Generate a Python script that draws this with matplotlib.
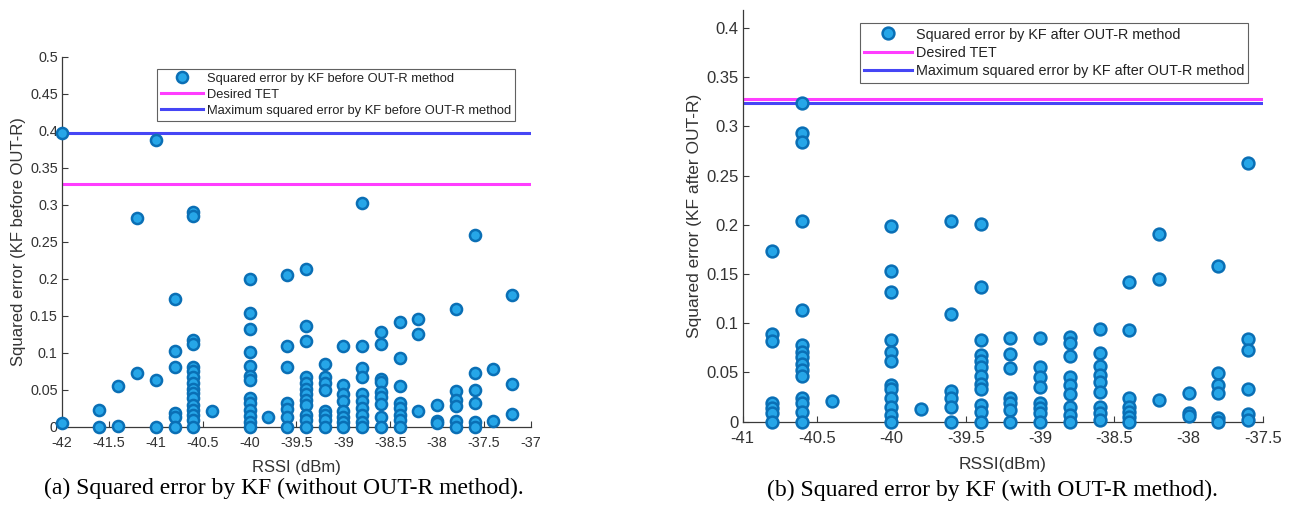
import matplotlib
matplotlib.use("Agg")
import matplotlib.pyplot as plt
from matplotlib.ticker import FuncFormatter, MultipleLocator
from matplotlib.lines import Line2D

# ---------------- data (a): before OUT-R ----------------
rssi_a = [-42.0, -41.6, -41.4, -41.2, -41.0, -40.8, -40.6, -40.4, -40.0, -39.8,
          -39.6, -39.4, -39.2, -39.0, -38.8, -38.6, -38.4, -38.2, -38.0, -37.8,
          -37.6, -37.4, -37.2]
err_a = [
    [0.397, 0.005],
    [0.023, 0.0],
    [0.056, 0.001],
    [0.283, 0.073],
    [0.388, 0.064, 0.0],
    [0.173, 0.103, 0.081, 0.019, 0.014, 0.0],
    [0.291, 0.285, 0.118, 0.112, 0.081, 0.075, 0.068, 0.059, 0.052, 0.046, 0.039,
     0.030, 0.023, 0.016, 0.0095, 0.0],
    [0.0216],
    [0.200, 0.154, 0.132, 0.101, 0.083, 0.069, 0.063, 0.039, 0.032, 0.023, 0.015,
     0.007, 0.0],
    [0.013],
    [0.205, 0.109, 0.081, 0.032, 0.024, 0.014, 0.0],
    [0.2135, 0.137, 0.116, 0.068, 0.059, 0.052, 0.044, 0.037, 0.030, 0.016, 0.010, 0.0],
    [0.085, 0.068, 0.059, 0.050, 0.021, 0.016, 0.010, 0.0],
    [0.110, 0.057, 0.044, 0.035, 0.021, 0.014, 0.007, 0.0],
    [0.303, 0.110, 0.080, 0.068, 0.044, 0.035, 0.025, 0.016, 0.007, 0.0],
    [0.129, 0.112, 0.065, 0.061, 0.047, 0.041, 0.031, 0.014, 0.0],
    [0.142, 0.093, 0.056, 0.033, 0.025, 0.016, 0.010, 0.0],
    [0.146, 0.125, 0.0216],
    [0.030, 0.0085, 0.006],
    [0.159, 0.049, 0.037, 0.028, 0.0085, 0.0],
    [0.260, 0.0725, 0.050, 0.033, 0.007, 0.0],
    [0.079, 0.008],
    [0.179, 0.058, 0.017],
]
tet_a = 0.328
max_a = 0.397

# ---------------- data (b): after OUT-R ----------------
rssi_b = [-40.8, -40.6, -40.4, -40.0, -39.8, -39.6, -39.4, -39.2, -39.0, -38.8,
          -38.6, -38.4, -38.2, -38.0, -37.8, -37.6]
err_b = [
    [0.173, 0.089, 0.082, 0.0187, 0.014, 0.009, 0.0],
    [0.324, 0.293, 0.284, 0.204, 0.113, 0.078, 0.071, 0.066, 0.059, 0.0525, 0.046,
     0.0244, 0.0187, 0.010, 0.0],
    [0.0207],
    [0.199, 0.153, 0.132, 0.083, 0.0705, 0.062, 0.0373, 0.033, 0.0244, 0.015, 0.007, 0.0],
    [0.013],
    [0.204, 0.109, 0.031, 0.024, 0.015, 0.0],
    [0.201, 0.137, 0.083, 0.068, 0.062, 0.0555, 0.046, 0.0385, 0.033, 0.017, 0.010, 0.0],
    [0.0847, 0.069, 0.055, 0.0238, 0.019, 0.012, 0.0],
    [0.0847, 0.056, 0.045, 0.0356, 0.019, 0.014, 0.0088, 0.0],
    [0.0858, 0.080, 0.0668, 0.045, 0.037, 0.028, 0.015, 0.0068, 0.0],
    [0.094, 0.070, 0.0566, 0.047, 0.040, 0.030, 0.015, 0.009, 0.002],
    [0.142, 0.093, 0.0244, 0.015, 0.010, 0.005, 0.0],
    [0.191, 0.145, 0.022],
    [0.0295, 0.009, 0.006],
    [0.158, 0.049, 0.037, 0.029, 0.004, 0.0],
    [0.2626, 0.084, 0.073, 0.033, 0.008, 0.002],
]
tet_b = 0.3275
max_b = 0.3238

labels_a = ["Squared error by KF before OUT-R method", "Desired TET",
            "Maximum squared error by KF before OUT-R method"]
labels_b = ["Squared error by KF after OUT-R method", "Desired TET",
            "Maximum squared error by KF after OUT-R method"]

# ---------------- style ----------------
plt.rcParams['font.family'] = ['Liberation Sans', 'DejaVu Sans']
FACE = '#26a6e8'
EDGE = '#0a6fb5'
MAG = '#ff3dff'
BLU = '#4646f5'
AX = '#3a3a3a'
TXT = '#333333'

fig = plt.figure(figsize=(12.96, 5.07), dpi=100)
ax1 = fig.add_axes([0.0478, 0.1578, 0.3619, 0.7298])
ax2 = fig.add_axes([0.5731, 0.1682, 0.4015, 0.8120])

fmt = FuncFormatter(lambda v, p: ('%g' % round(v, 4)))


def draw(ax, xs, ys, tet, mx, labels, xlim, ylim, ylab, xlab, leg_anchor,
         tick_fs, lab_fs, leg_fs, ms, xlpad, ylpad, lspace):
    ax.axhline(tet, color=MAG, lw=2.2, zorder=2)
    ax.axhline(mx, color=BLU, lw=2.2, zorder=2)
    px, py = [], []
    for x, col in zip(xs, ys):
        for v in col:
            px.append(x)
            py.append(v)
    ax.plot(px, py, 'o', ms=ms, mfc=FACE, mec=EDGE, mew=1.8, ls='none',
            clip_on=False, zorder=3)
    ax.set_xlim(*xlim)
    ax.set_ylim(*ylim)
    ax.xaxis.set_major_locator(MultipleLocator(0.5))
    ax.yaxis.set_major_locator(MultipleLocator(0.05))
    ax.xaxis.set_major_formatter(fmt)
    ax.yaxis.set_major_formatter(fmt)
    for s in ['top', 'right']:
        ax.spines[s].set_visible(False)
    for s in ['left', 'bottom']:
        ax.spines[s].set_color(AX)
        ax.spines[s].set_linewidth(0.9)
    ax.tick_params(direction='in', length=4, width=0.8, colors=AX,
                   labelsize=tick_fs, labelcolor=TXT)
    ax.tick_params(axis='y', pad=3)
    ax.tick_params(axis='x', pad=6.5)
    ax.set_ylabel(ylab, fontsize=lab_fs, color=TXT, labelpad=ylpad)
    ax.set_xlabel(xlab, fontsize=lab_fs, color=TXT, labelpad=xlpad)
    handles = [
        Line2D([], [], marker='o', ls='none', ms=ms, mfc=FACE, mec=EDGE, mew=1.8),
        Line2D([], [], color=MAG, lw=2.2),
        Line2D([], [], color=BLU, lw=2.2),
    ]
    leg = ax.legend(handles, labels, loc='upper left', bbox_to_anchor=leg_anchor,
                    borderaxespad=0, fontsize=leg_fs, frameon=True, fancybox=False,
                    handlelength=3.3, handletextpad=0.25, labelspacing=lspace,
                    borderpad=0.3)
    leg.get_frame().set_edgecolor(AX)
    leg.get_frame().set_linewidth(0.8)
    for t in leg.get_texts():
        t.set_color('#222222')


draw(ax1, rssi_a, err_a, tet_a, max_a, labels_a, (-42, -37), (0, 0.5),
     'Squared error (KF before OUT-R)', 'RSSI (dBm)', (0.2026, 0.9676),
     tick_fs=10.4, lab_fs=12, leg_fs=9.3, ms=8, xlpad=7, ylpad=3, lspace=0.3)
draw(ax2, rssi_b, err_b, tet_b, max_b, labels_b, (-41, -37.5), (0, 0.418),
     'Squared error (KF after OUT-R)', 'RSSI(dBm)', (0.2255, 0.968),
     tick_fs=12, lab_fs=12.5, leg_fs=10.4, ms=8.5, xlpad=8, ylpad=3, lspace=0.3)

fig.text(0.219, 0.037, '(a) Squared error by KF (without OUT-R method).',
         ha='center', va='center', fontsize=17, family='Liberation Serif')
fig.text(0.766, 0.033, '(b) Squared error by KF (with OUT-R method).',
         ha='center', va='center', fontsize=17, family='Liberation Serif')

fig.savefig('out.png', dpi=100)
